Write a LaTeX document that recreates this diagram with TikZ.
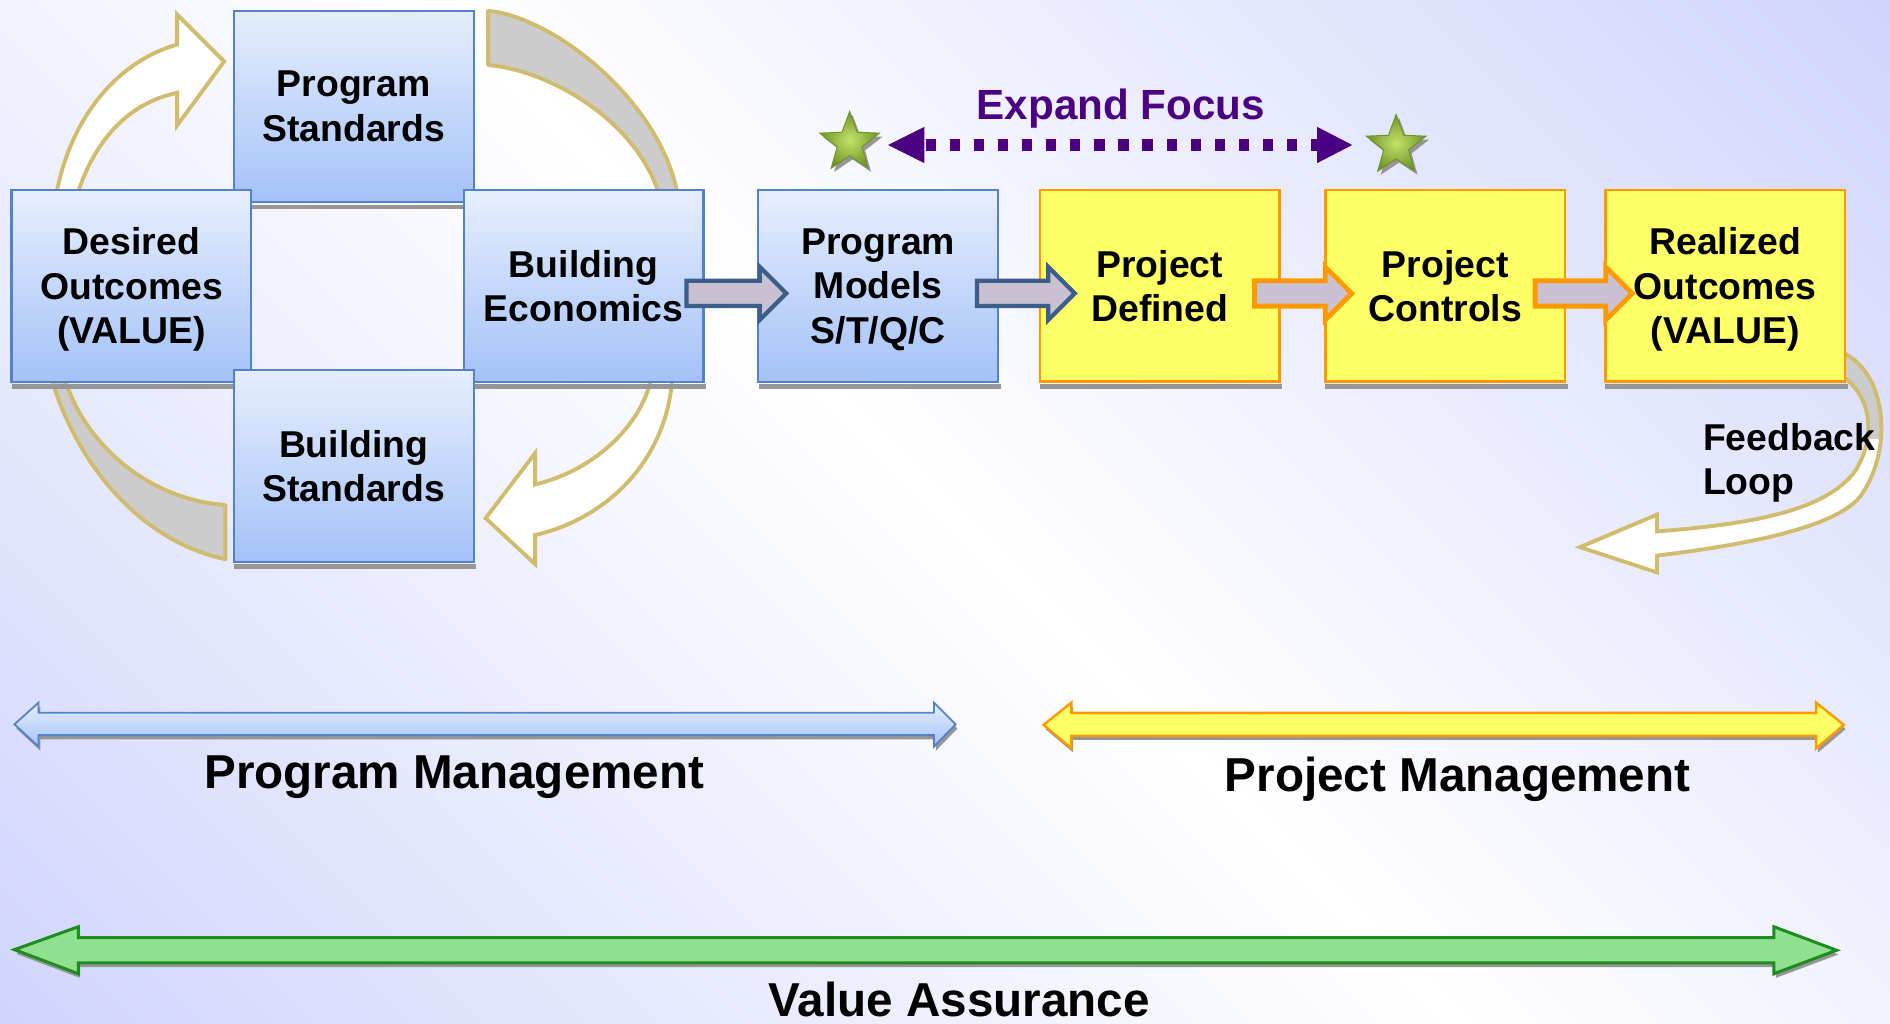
\documentclass[tikz,border=0pt]{standalone}
\usepackage{fontspec}
\setmainfont{Liberation Sans}
\usetikzlibrary{shapes.geometric,calc}
\definecolor{lav}{RGB}{208,212,252}
\definecolor{bluetop}{RGB}{230,238,253}
\definecolor{bluebot}{RGB}{164,194,248}
\definecolor{blueedge}{RGB}{84,130,200}
\definecolor{yel}{RGB}{255,255,102}
\definecolor{orng}{RGB}{255,153,0}
\definecolor{arrfill}{RGB}{201,193,209}
\definecolor{arredge}{RGB}{59,94,140}
\definecolor{gold}{RGB}{208,188,108}
\definecolor{bandgray}{RGB}{204,204,204}
\definecolor{grnfill}{RGB}{143,224,143}
\definecolor{grnedge}{RGB}{30,140,30}
\definecolor{indig}{RGB}{75,0,130}
\definecolor{starlt}{RGB}{196,226,104}
\definecolor{stardk}{RGB}{110,148,40}
\definecolor{shad}{RGB}{150,150,150}
\pgfdeclarehorizontalshading{bgshade}{100bp}{color(0bp)=(lav); color(14bp)=(lav); color(50bp)=(white); color(86bp)=(lav); color(100bp)=(lav)}
\pgfdeclarelayer{bg}
\pgfdeclarelayer{mid}
\pgfsetlayers{bg,mid,main}
\newcommand{\blockarr}[3]{%
  \draw[#3] let \p1=#1, \p2=#2 in
    (\x1,\y1+10.5pt) -- (\x2-22pt,\y1+10.5pt) -- (\x2-22pt,\y1+22pt) -- (\x2,\y1)
    -- (\x2-22pt,\y1-22pt) -- (\x2-22pt,\y1-10.5pt) -- (\x1,\y1-10.5pt) -- cycle;}
\begin{document}
\begin{tikzpicture}[x=1pt,y=-1pt,
  boxfont/.style={font=\fontsize{31}{37}\selectfont\bfseries},
  boxbase/.style={boxfont,minimum width=199pt,minimum height=159pt,inner sep=0pt,align=center,text depth=0pt},
  bbox/.style={boxbase,draw=blueedge,line width=1.8pt,top color=bluetop,bottom color=bluebot},
  ybox/.style={boxbase,draw=orng,line width=2.2pt,fill=yel},
  band/.style={draw=gold,line width=3.2pt,fill=bandgray,line join=round},
  wband/.style={draw=gold,line width=3.2pt,fill=white,line join=miter},
  blockblue/.style={draw=arredge,line width=3.5pt,fill=arrfill,line join=miter},
  blockorng/.style={draw=orng,line width=4pt,fill=arrfill,line join=miter},
  starsty/.style={star,star points=5,star point ratio=2.4,minimum size=52pt,inner sep=0pt,inner color=starlt,outer color=stardk,draw=stardk,line width=0.8pt},
  starshad/.style={star,star points=5,star point ratio=2.4,minimum size=52pt,inner sep=0pt,fill=shad},
  lbl/.style={font=\fontsize{39.5}{47}\selectfont\bfseries,inner sep=0pt}
]
\useasboundingbox (0,0) rectangle (1568.3,849);
\begin{pgfonlayer}{bg}
\shade[shading=bgshade,shading angle=45] (0,0) rectangle (1568.3,849);
\end{pgfonlayer}

% ---- cycle arrows around the four program boxes
\begin{pgfonlayer}{mid}
\path[band] (405,9) .. controls (460,14) and (550,85) .. (563,165) -- (548,165)
  .. controls (530,100) and (455,58) .. (405,54) -- cycle;
\path[band] (42,312) .. controls (65,390) and (120,450) .. (187,464) -- (187,419)
  .. controls (125,415) and (70,370) .. (53,312) -- cycle;
\path[wband] (46,165) .. controls (58,95) and (100,50) .. (147,37) -- (147,12) -- (186,51)
  -- (147,104) -- (147,77) .. controls (108,85) and (78,115) .. (63,165) -- cycle;
\path[wband] (541,310) .. controls (535,350) and (495,390) .. (444,402) -- (444,376) -- (403,430)
  -- (444,468) -- (444,444) .. controls (505,430) and (555,380) .. (558,310) -- cycle;
% feedback loop arrow
\def\fbpath{(1525,291) .. controls (1565,305) and (1572,370) .. (1545,410)
  .. controls (1527,437) and (1450,452) .. (1375,461) -- (1375,475) -- (1311,454)
  -- (1375,427) -- (1375,441) .. controls (1450,435) and (1515,425) .. (1540,390)
  .. controls (1558,360) and (1552,325) .. (1525,310) -- cycle}
\fill[white] \fbpath;
\begin{scope}
\clip (1500,280) rectangle (1600,364);
\fill[bandgray] \fbpath;
\end{scope}
\draw[draw=gold,line width=3.2pt,line join=miter] \fbpath;
\end{pgfonlayer}

% ---- boxes
\node[bbox] (ps) at (293.5,88.3) {Program\\Standards};
\node[bbox] (do) at (109.1,237.2) {Desired\\Outcomes\\(VALUE)};
\node[bbox] (be) at (484.3,237.2) {Building\\Economics};
\node[bbox] (bs) at (293.5,386.6) {Building\\Standards};
\node[bbox] (pmod) at (728.8,237.2) {Program\\Models\\S/T/Q/C};
\node[ybox] (pdef) at (962.4,237.2) {Project\\Defined};
\node[ybox] (pctl) at (1199.2,237.2) {Project\\Controls};
\node[ybox] (real) at (1431.5,237.2) {Realized\\Outcomes\\(VALUE)};
\begin{pgfonlayer}{mid}
\foreach \n in {ps,do,be,bs,pmod,pdef,pctl,real}
  \fill[shad] ($(\n.south west)+(1,1)$) rectangle ($(\n.south east)+(1,5)$);
\end{pgfonlayer}

% ---- block arrows between boxes
\blockarr{($(be.east)+(-15,6.3)$)}{($(pmod.west)+(24,6.3)$)}{blockblue}
\blockarr{($(pmod.east)+(-18.5,6.3)$)}{($(pdef.west)+(30,6.3)$)}{blockblue}
\blockarr{($(pdef.east)+(-22,6.3)$)}{($(pctl.west)+(23,6.3)$)}{blockorng}
\blockarr{($(pctl.east)+(-26,6.3)$)}{($(real.west)+(23.5,6.3)$)}{blockorng}

% ---- feedback label
\node[boxfont,align=left,anchor=west,inner sep=0pt] (fb) at (1413,384.2) {Feedback\\Loop};

% ---- expand focus
\node[font=\fontsize{35}{42}\selectfont\bfseries,text=indig,anchor=base,inner sep=0pt] (ef) at (930,99.5) {Expand Focus};
\node[starshad] at (707.5,121.5) {};
\node[starsty] (st1) at (705,118.5) {};
\node[starshad] at (1161,124) {};
\node[starsty] (st2) at (1158.5,121) {};
\coordinate (efl) at ($(st1.center)+(32,1.8)$);
\coordinate (efr) at ($(st2.center)+(-36.5,-0.7)$);
\draw[indig,line width=10pt,dash pattern=on 8.5pt off 11.5pt] ($(efl)+(31,0)$) -- ($(efr)+(-29,0)$);
\fill[indig] (efl) -- ++(30,-15) -- ++(0,30) -- cycle;
\fill[indig] (efr) -- ++(-29,-15) -- ++(0,30) -- cycle;

% ---- bottom management arrows
\fill[shad] (13.5,604.5) -- (33.5,586.5) -- (33.5,595) -- (776.5,595) -- (776.5,586.5) -- (794.5,604.5)
  -- (776.5,623) -- (776.5,613.5) -- (33.5,613.5) -- (33.5,623) -- cycle;
\draw[draw=blueedge,line width=1.5pt,top color=bluetop,bottom color=bluebot]
  (12,601) -- (32,583) -- (32,591.5) -- (775,591.5) -- (775,583) -- (793,601)
  -- (775,619.5) -- (775,610) -- (32,610) -- (32,619.5) -- cycle;
\fill[shad] (867.5,605) -- (890.5,586.5) -- (890.5,595) -- (1508.5,595) -- (1508.5,586.5) -- (1531.5,605)
  -- (1508.5,624.5) -- (1508.5,614) -- (890.5,614) -- (890.5,624.5) -- cycle;
\draw[draw=orng,line width=2pt,fill=yel]
  (866,601.5) -- (889,583) -- (889,591.5) -- (1507,591.5) -- (1507,583) -- (1530,601.5)
  -- (1507,621) -- (1507,610.5) -- (889,610.5) -- (889,621) -- cycle;
\fill[shad] (13.5,791.5) -- (66.5,772.5) -- (66.5,781.5) -- (1473.5,781.5) -- (1473.5,772.5) -- (1525.5,792)
  -- (1473.5,811.5) -- (1473.5,802.5) -- (66.5,802.5) -- (66.5,811.5) -- cycle;
\draw[draw=grnedge,line width=2.5pt,fill=grnfill]
  (12,788) -- (65,769) -- (65,778) -- (1472,778) -- (1472,769) -- (1524,788.5)
  -- (1472,808) -- (1472,799) -- (65,799) -- (65,808) -- cycle;
\node[lbl,anchor=base] (pgm) at (377,654) {Program Management};
\node[lbl,anchor=base] (pjm) at (1209.5,657) {Project Management};
\node[lbl,anchor=base] (va) at (796,843.5) {Value Assurance};
\end{tikzpicture}
\end{document}
